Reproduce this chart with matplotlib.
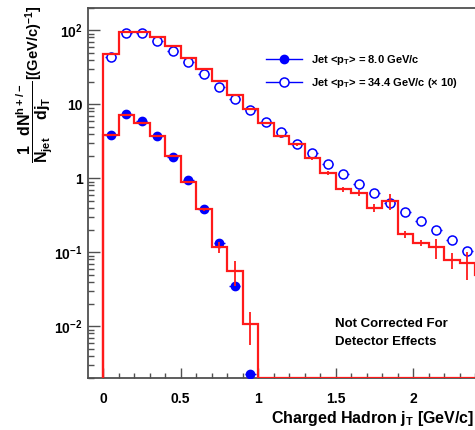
import numpy as np
import matplotlib
matplotlib.use("Agg")
import matplotlib.pyplot as plt
from matplotlib.lines import Line2D
from matplotlib.ticker import FixedLocator, FixedFormatter, LogLocator, MultipleLocator, NullFormatter

plt.rcParams['font.family'] = ['Liberation Sans', 'DejaVu Sans']
plt.rcParams['font.weight'] = 'bold'
plt.rcParams['axes.labelweight'] = 'bold'
plt.rcParams['mathtext.fontset'] = 'custom'
plt.rcParams['mathtext.rm'] = 'Liberation Sans:bold'
plt.rcParams['mathtext.it'] = 'Liberation Sans:bold'
plt.rcParams['mathtext.bf'] = 'Liberation Sans:bold'
plt.rcParams['mathtext.sf'] = 'Liberation Sans:bold'
plt.rcParams['mathtext.default'] = 'rm'

# bins of 0.1 GeV/c in j_T
edges = np.round(np.arange(0, 2.51, 0.1), 2)
centers = np.round(edges[:-1] + 0.05, 2)

# Jet <pT> = 8.0 GeV/c  (data points, blue filled)
low_pts = [3.85, 7.5, 5.9, 3.7, 1.96, 0.94, 0.39, 0.133, 0.0345, 0.0023]
# red histogram for it (zero beyond 1 GeV/c)
low_hist = [3.9, 7.2, 5.6, 3.7, 2.0, 0.9, 0.38, 0.118, 0.0555, 0.0106,
            0, 0, 0, 0, 0, 0, 0, 0, 0, 0, 0, 0, 0, 0, 0]
low_err = [0.1, 0.15, 0.12, 0.08, 0.05, 0.03, 0.02, 0.019, 0.02, 0.005,
           0, 0, 0, 0, 0, 0, 0, 0, 0, 0, 0, 0, 0, 0, 0]

# Jet <pT> = 34.4 GeV/c (x10)  (open circles)
high_pts = [43.5, 91, 91, 72, 53, 37, 25.6, 17.3, 11.9, 8.3, 5.8, 4.2,
            2.93, 2.17, 1.58, 1.16, 0.85, 0.64, 0.457, 0.352, 0.267, 0.20,
            0.148, 0.105]
high_hist = [47.5, 94, 94, 81, 62, 42, 30, 20.4, 13.3, 8.75, 5.6, 3.7,
             2.87, 1.86, 1.19, 0.71, 0.64, 0.40, 0.495, 0.176, 0.133, 0.117,
             0.079, 0.072, 0.05]
high_err = [0.5, 0.8, 0.8, 0.7, 0.6, 0.5, 0.4, 0.3, 0.25, 0.2, 0.15, 0.15,
            0.15, 0.1, 0.08, 0.06, 0.065, 0.05, 0.12, 0.02, 0.013, 0.035,
            0.02, 0.03, 0.01]

labels = ['Jet <p$_{T}$> = 8.0 GeV/c', 'Jet <p$_{T}$> = 34.4 GeV/c (× 10)']

ymin, ymax = 0.002, 200
ytick_vals = [0.01, 0.1, 1, 10, 100]
ytick_labels = ['$10^{-2}$', '$10^{-1}$', '1', '10', '$10^{2}$']

fig = plt.figure(figsize=(4.75, 4.3), dpi=100)
ax = fig.add_axes([0.1853, 0.1209, 0.8211, 0.8605])

blue = '#0000ff'
red = '#ff1a1a'

ax.errorbar(centers[:len(low_pts)], low_pts, xerr=0.035, fmt='o', color=blue,
            ms=6, elinewidth=1, capsize=0, zorder=3)
ax.errorbar(centers[:len(high_pts)], high_pts, xerr=0.035, fmt='o', color=blue,
            mfc='white', mec=blue, mew=1.1, ms=6.5, elinewidth=1, capsize=0, zorder=3)

for vals, err in [(low_hist, low_err), (high_hist, high_err)]:
    v = np.maximum(np.array(vals, dtype=float), ymin)
    ax.stairs(v, edges, baseline=ymin, color=red, lw=1.6, zorder=4)
    e = np.array(err)
    m = e > 0
    ax.errorbar(centers[m], v[m], yerr=e[m], fmt='none', ecolor=red,
                elinewidth=1.3, capsize=0, zorder=4)

ax.set_yscale('log')
ax.set_ylim(ymin, ymax)
ax.set_xlim(-0.0968, 2.419)

ax.yaxis.set_major_locator(FixedLocator(ytick_vals))
ax.yaxis.set_major_formatter(FixedFormatter(ytick_labels))
ax.yaxis.set_minor_locator(LogLocator(base=10, subs=np.arange(2, 10)))
ax.yaxis.set_minor_formatter(NullFormatter())
ax.xaxis.set_major_locator(FixedLocator([0, 0.5, 1, 1.5, 2]))
ax.xaxis.set_major_formatter(FixedFormatter(['0', '0.5', '1', '1.5', '2']))
ax.xaxis.set_minor_locator(MultipleLocator(0.1))

spine_col = '#505050'
for s in ax.spines.values():
    s.set_color(spine_col)
    s.set_linewidth(1.3)
    s.set_zorder(2)

ax.tick_params(which='both', direction='in', top=False, right=False, colors=spine_col,
               labelcolor='black', width=1)
ax.tick_params(axis='y', which='major', length=8.5, pad=4, labelsize=10)
ax.tick_params(axis='y', which='minor', length=4.5)
ax.tick_params(axis='x', which='major', length=7, pad=10, labelsize=10)
ax.tick_params(axis='x', which='minor', length=3.5)

ax.set_xlabel('Charged Hadron j$_{T}$ [GeV/c]', fontsize=11.5, ha='right')
ax.xaxis.set_label_coords(0.99, -0.083)
ax.xaxis.label.set_va('top')

ax.set_ylabel(r'$\dfrac{1}{N_{jet}}\dfrac{dN^{h+/-}}{dj_{T}}$', fontsize=11.5, ha='left')
ax.yaxis.set_label_coords(-0.085, 0.581)
fig.text(34 / 475, 1 - 6 / 430, '[(GeV/c)$^{-1}$]', rotation=90, fontsize=10.5,
         ha='center', va='top')

ax.text(0.633, 0.162, 'Not Corrected For\nDetector Effects', transform=ax.transAxes,
        fontsize=9.5, va='top', ha='left', linespacing=1.65)

handles = [Line2D([], [], color=blue, lw=1, marker='o', ms=6),
           Line2D([], [], color=blue, lw=1, marker='o', ms=6.5, mfc='white', mew=1.1)]
ax.legend(handles, labels, loc='upper left', bbox_to_anchor=(0.43, 0.905), frameon=False,
          fontsize=8, handlelength=3.3, labelspacing=0.8, handletextpad=0.8)

fig.savefig('out.png', dpi=100)
